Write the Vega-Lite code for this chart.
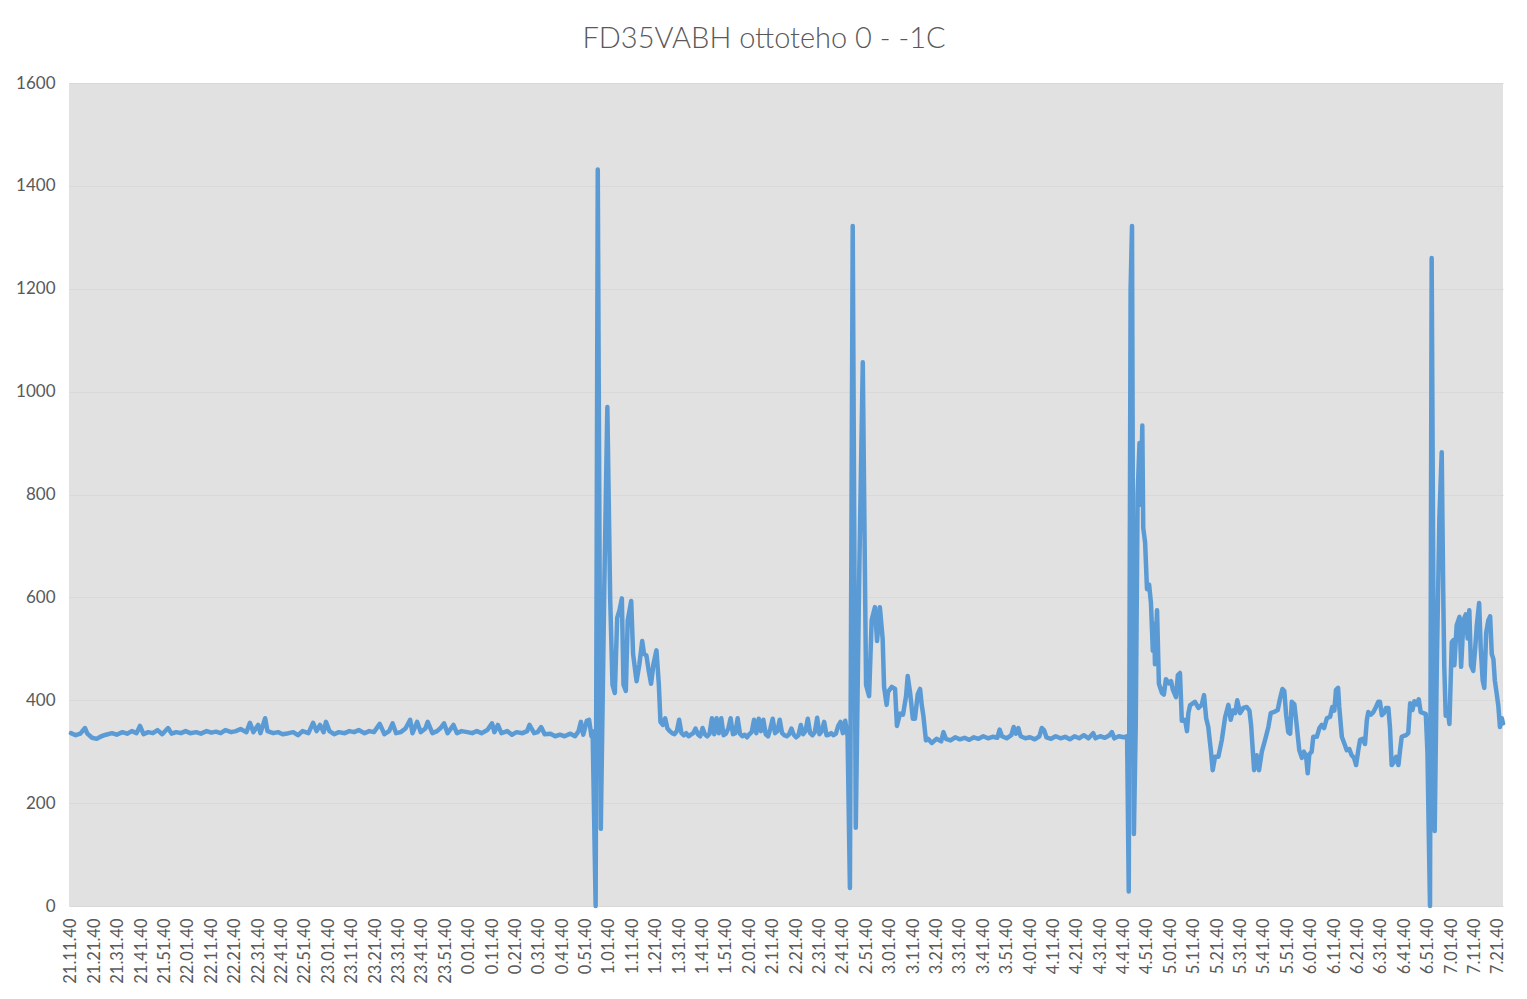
{
  "$schema": "https://vega.github.io/schema/vega-lite/v6.json",
  "width": 1434,
  "height": 823,
  "autosize": {"type": "none"},
  "padding": {"left": 69, "top": 83, "right": 24, "bottom": 93},
  "background": "#FFFFFF",
  "title": {"text": "FD35VABH ottoteho 0 - -1C", "font": "Lato", "fontSize": 29, "fontWeight": 300, "color": "#595959", "anchor": "middle", "dx": -22, "offset": 20},
  "data": {"values": [
    {"t":0,"w":336},{"t":2,"w":332},{"t":4,"w":335},{"t":6,"w":346},{"t":7,"w":335},{"t":9,"w":327},{"t":11,"w":325},{"t":13,"w":330},{"t":15,"w":333},{"t":17.5,"w":336},{"t":19.5,"w":333},{"t":22,"w":338},{"t":24,"w":335},{"t":26,"w":340},{"t":28,"w":336},{"t":29.5,"w":350},{"t":31,"w":334},{"t":33,"w":338},{"t":35,"w":336},{"t":37,"w":342},{"t":39,"w":334},{"t":41.5,"w":346},{"t":43,"w":335},{"t":45,"w":338},{"t":47,"w":336},{"t":49,"w":340},{"t":51,"w":336},{"t":53.5,"w":338},{"t":55.5,"w":335},{"t":58,"w":340},{"t":60,"w":337},{"t":62,"w":339},{"t":64,"w":336},{"t":66,"w":342},{"t":68.5,"w":338},{"t":70.5,"w":340},{"t":72.5,"w":344},{"t":75,"w":338},{"t":76.5,"w":356},{"t":78,"w":338},{"t":80,"w":352},{"t":81,"w":336},{"t":83,"w":365},{"t":84,"w":340},{"t":86.5,"w":336},{"t":88.5,"w":338},{"t":90.5,"w":334},{"t":93,"w":336},{"t":95,"w":338},{"t":97,"w":332},{"t":99,"w":340},{"t":101.5,"w":336},{"t":103.5,"w":356},{"t":105,"w":340},{"t":106.5,"w":352},{"t":108,"w":338},{"t":109,"w":358},{"t":110.5,"w":340},{"t":112.5,"w":334},{"t":114.5,"w":338},{"t":117,"w":336},{"t":119,"w":340},{"t":121,"w":338},{"t":123,"w":342},{"t":125.5,"w":336},{"t":127.5,"w":340},{"t":129.5,"w":338},{"t":132,"w":354},{"t":134,"w":334},{"t":136,"w":340},{"t":137.5,"w":355},{"t":139,"w":336},{"t":141,"w":338},{"t":143,"w":345},{"t":145,"w":362},{"t":146,"w":336},{"t":148,"w":358},{"t":149.5,"w":338},{"t":151.5,"w":345},{"t":152.5,"w":358},{"t":154.5,"w":336},{"t":156.5,"w":340},{"t":158,"w":346},{"t":159.5,"w":355},{"t":161,"w":336},{"t":163.5,"w":352},{"t":165,"w":336},{"t":167,"w":340},{"t":169.5,"w":338},{"t":171.5,"w":336},{"t":173.5,"w":340},{"t":175.5,"w":336},{"t":178,"w":342},{"t":180,"w":355},{"t":181,"w":338},{"t":182.5,"w":352},{"t":184,"w":336},{"t":186.5,"w":340},{"t":188.5,"w":333},{"t":190.5,"w":338},{"t":193,"w":336},{"t":195,"w":340},{"t":196,"w":352},{"t":198,"w":336},{"t":199.5,"w":338},{"t":201,"w":348},{"t":202.5,"w":334},{"t":205,"w":335},{"t":207,"w":330},{"t":209,"w":333},{"t":211,"w":330},{"t":213.5,"w":335},{"t":215.5,"w":330},{"t":217,"w":340},{"t":218,"w":358},{"t":219,"w":333},{"t":220.5,"w":360},{"t":221.5,"w":362},{"t":222.5,"w":330},{"t":223,"w":340},
    {"t":224.3,"w":0},{"t":225.2,"w":1432},{"t":226.5,"w":150},{"t":228,"w":620},{"t":229.3,"w":970},{"t":230.5,"w":600},{"t":231.5,"w":430},{"t":232.5,"w":414},{"t":233.5,"w":560},{"t":234.5,"w":575},{"t":235.5,"w":598},{"t":236.2,"w":430},{"t":237.2,"w":418},{"t":238,"w":555},{"t":239.5,"w":593},{"t":240.3,"w":490},{"t":241.8,"w":437},{"t":243,"w":470},{"t":244.2,"w":515},{"t":245,"w":490},{"t":246,"w":487},{"t":247,"w":457},{"t":248,"w":432},{"t":249,"w":470},{"t":250.3,"w":497},{"t":251.3,"w":432},{"t":252,"w":358},
    {"t":253,"w":352},{"t":254,"w":365},{"t":255,"w":345},{"t":256,"w":340},{"t":257,"w":336},{"t":258,"w":334},{"t":259,"w":340},{"t":260,"w":362},{"t":261,"w":336},{"t":262,"w":332},{"t":263,"w":336},{"t":264,"w":330},{"t":265,"w":333},{"t":266,"w":336},{"t":267,"w":345},{"t":268,"w":334},{"t":269,"w":330},{"t":270,"w":346},{"t":271,"w":334},{"t":272,"w":330},{"t":273,"w":335},{"t":274,"w":365},{"t":275,"w":334},{"t":276,"w":365},{"t":277,"w":336},{"t":278,"w":365},{"t":279,"w":332},{"t":280,"w":335},{"t":281,"w":345},{"t":282,"w":365},{"t":283,"w":334},{"t":284,"w":336},{"t":285,"w":365},{"t":286,"w":335},{"t":287,"w":330},{"t":288,"w":333},{"t":289,"w":328},{"t":290,"w":334},{"t":291,"w":338},{"t":292,"w":362},{"t":293,"w":336},{"t":294,"w":364},{"t":295,"w":340},{"t":296,"w":362},{"t":297,"w":334},{"t":298,"w":330},{"t":299,"w":345},{"t":300,"w":364},{"t":301,"w":336},{"t":302,"w":340},{"t":303,"w":362},{"t":304,"w":336},{"t":305,"w":332},{"t":306,"w":330},{"t":307,"w":334},{"t":308,"w":345},{"t":309,"w":333},{"t":310,"w":328},{"t":311,"w":332},{"t":312,"w":352},{"t":313,"w":334},{"t":314,"w":340},{"t":315,"w":364},{"t":316,"w":336},{"t":317,"w":332},{"t":318,"w":338},{"t":319,"w":366},{"t":320,"w":334},{"t":321,"w":340},{"t":322,"w":358},{"t":323,"w":332},{"t":324,"w":333},{"t":325,"w":336},{"t":326,"w":332},{"t":327,"w":335},{"t":328,"w":350},{"t":329,"w":358},{"t":330,"w":336},{"t":331,"w":360},{"t":332,"w":330},
    {"t":333,"w":35},{"t":334.2,"w":1322},{"t":335.5,"w":152},{"t":337,"w":650},{"t":338.5,"w":1057},{"t":339.9,"w":430},{"t":341.2,"w":408},{"t":342.3,"w":556},{"t":343.7,"w":581},{"t":344.6,"w":515},{"t":345.8,"w":581},{"t":347,"w":519},{"t":347.6,"w":426},{"t":348.7,"w":391},{"t":349.3,"w":416},{"t":350.9,"w":426},{"t":352.3,"w":422},{"t":353.1,"w":350},{"t":354.4,"w":374},{"t":355.7,"w":372},{"t":357,"w":408},{"t":357.7,"w":447},{"t":358.7,"w":416},{"t":359.9,"w":364},{"t":360.8,"w":364},{"t":362,"w":412},{"t":363,"w":422},{"t":363.7,"w":391},{"t":364.4,"w":370},{"t":365.5,"w":322},{"t":366.4,"w":325},{"t":368,"w":317},
    {"t":370,"w":325},{"t":372,"w":320},{"t":373,"w":338},{"t":374,"w":325},{"t":376,"w":322},{"t":378,"w":328},{"t":380,"w":324},{"t":382,"w":327},{"t":384,"w":323},{"t":386,"w":328},{"t":388,"w":325},{"t":390,"w":330},{"t":392,"w":326},{"t":394,"w":329},{"t":396,"w":327},{"t":397,"w":343},{"t":398,"w":330},{"t":400,"w":326},{"t":402,"w":332},{"t":403,"w":348},{"t":404,"w":335},{"t":405,"w":346},{"t":406,"w":330},{"t":408,"w":326},{"t":410,"w":328},{"t":412,"w":324},{"t":414,"w":330},{"t":415,"w":346},{"t":416,"w":342},{"t":417,"w":328},{"t":419,"w":325},{"t":421,"w":330},{"t":423,"w":326},{"t":425,"w":329},{"t":427,"w":324},{"t":429,"w":330},{"t":431,"w":326},{"t":433,"w":332},{"t":435,"w":326},{"t":437,"w":336},{"t":438,"w":326},{"t":440,"w":330},{"t":442,"w":327},{"t":444,"w":332},{"t":445,"w":338},{"t":446,"w":326},{"t":448,"w":330},{"t":450,"w":328},{"t":451.5,"w":330},
    {"t":452.2,"w":28},{"t":453,"w":1200},{"t":453.6,"w":1322},{"t":454.4,"w":140},{"t":455.2,"w":353},{"t":456,"w":800},{"t":456.8,"w":900},{"t":457.3,"w":780},{"t":458,"w":934},{"t":458.4,"w":735},{"t":459.2,"w":707},{"t":460,"w":616},{"t":460.9,"w":625},{"t":461.7,"w":589},{"t":462.5,"w":496},{"t":463.1,"w":548},{"t":463.4,"w":470},{"t":464.3,"w":575},{"t":465.1,"w":432},{"t":466.4,"w":414},{"t":467.2,"w":411},{"t":468.1,"w":441},{"t":468.9,"w":436},{"t":469.4,"w":433},{"t":470.3,"w":437},{"t":471.1,"w":420},{"t":472.4,"w":406},{"t":473.2,"w":449},{"t":474.1,"w":453},{"t":474.9,"w":360},{"t":476.3,"w":362},{"t":477.1,"w":340},{"t":477.7,"w":375},{"t":478.4,"w":390},{"t":480.5,"w":397},{"t":482,"w":385},{"t":483.4,"w":391},{"t":484.4,"w":410},{"t":485.3,"w":365},{"t":486.2,"w":348},{"t":487.3,"w":303},{"t":488.1,"w":264},{"t":489.1,"w":290},{"t":490.5,"w":290},{"t":492,"w":323},{"t":493.4,"w":367},{"t":494.8,"w":391},{"t":495.8,"w":362},{"t":496.7,"w":380},{"t":497.7,"w":375},{"t":498.6,"w":400},{"t":499.8,"w":375},{"t":501.2,"w":385},{"t":502.6,"w":387},{"t":503.8,"w":380},{"t":504.5,"w":352},{"t":505.8,"w":264},{"t":506.9,"w":293},{"t":507.9,"w":264},{"t":509.1,"w":300},{"t":510.5,"w":323},{"t":511.9,"w":348},{"t":512.9,"w":375},{"t":514.7,"w":378},{"t":515.9,"w":381},{"t":516.9,"w":404},{"t":517.9,"w":422},{"t":518.7,"w":418},{"t":519.5,"w":371},{"t":520.4,"w":338},{"t":521.2,"w":335},{"t":521.9,"w":397},{"t":523,"w":392},{"t":524,"w":352},{"t":525.1,"w":303},{"t":526.2,"w":288},{"t":527.1,"w":300},{"t":528,"w":292},{"t":528.7,"w":258},{"t":529.4,"w":295},{"t":530.4,"w":300},{"t":531.1,"w":329},{"t":532.6,"w":329},{"t":533.7,"w":346},{"t":534.7,"w":352},{"t":535.7,"w":346},{"t":536.9,"w":365},{"t":538.3,"w":368},{"t":539.2,"w":387},{"t":540.1,"w":380},{"t":540.8,"w":420},{"t":541.7,"w":424},{"t":542.2,"w":387},{"t":543.3,"w":329},{"t":544.3,"w":317},{"t":545.4,"w":303},{"t":546.5,"w":305},{"t":547.5,"w":293},{"t":548.5,"w":288},{"t":549.4,"w":274},{"t":550.4,"w":305},{"t":551.1,"w":323},{"t":552.2,"w":325},{"t":553.2,"w":315},{"t":554,"w":362},{"t":554.6,"w":377},{"t":555.7,"w":372},{"t":556.8,"w":377},{"t":557.9,"w":387},{"t":558.9,"w":397},{"t":559.6,"w":397},{"t":560.4,"w":371},{"t":561.3,"w":375},{"t":562.2,"w":385},{"t":563.2,"w":385},{"t":563.9,"w":346},{"t":564.6,"w":274},{"t":565.6,"w":280},{"t":566.5,"w":290},{"t":567.5,"w":274},{"t":568.2,"w":303},{"t":568.9,"w":329},{"t":569.9,"w":331},{"t":570.8,"w":332},{"t":571.7,"w":336},{"t":572.5,"w":394},{"t":573.5,"w":381},{"t":574.3,"w":398},{"t":575.3,"w":392},{"t":576.2,"w":402},{"t":577,"w":377},{"t":578.2,"w":375},{"t":579.2,"w":373},{"t":579.9,"w":299},{"t":580.5,"w":132},{"t":581,"w":0},{"t":581.7,"w":1260},{"t":582.4,"w":630},{"t":583,"w":146},{"t":583.9,"w":465},{"t":585,"w":754},{"t":586,"w":882},{"t":586.7,"w":589},{"t":587.1,"w":465},{"t":587.7,"w":370},{"t":588.6,"w":380},{"t":589.3,"w":354},{"t":590.3,"w":513},{"t":591,"w":517},{"t":591.4,"w":468},{"t":592.4,"w":546},{"t":593.6,"w":562},{"t":594.3,"w":465},{"t":595.3,"w":556},{"t":596.3,"w":567},{"t":597.1,"w":520},{"t":597.8,"w":575},{"t":598.5,"w":468},{"t":599.5,"w":457},{"t":600.3,"w":500},{"t":601,"w":546},{"t":602,"w":589},{"t":602.7,"w":500},{"t":603.5,"w":439},{"t":604.2,"w":424},{"t":605,"w":531},{"t":605.9,"w":555},{"t":606.7,"w":563},{"t":607.4,"w":490},{"t":608.1,"w":480},{"t":608.7,"w":439},{"t":609.5,"w":413},{"t":610.2,"w":389},{"t":610.9,"w":348},{"t":611.7,"w":365},{"t":612.2,"w":355}
  ]},
  "mark": {"type": "line", "color": "#5B9BD5", "strokeWidth": 4.5, "strokeJoin": "round", "strokeCap": "round"},
  "encoding": {
    "x": {"field": "t", "type": "quantitative", "title": null,
      "scale": {"domain": [-0.85, 612.2], "nice": false, "zero": false},
      "axis": {"values": [0,10,20,30,40,50,60,70,80,90,100,110,120,130,140,150,160,170,180,190,200,210,220,230,240,250,260,270,280,290,300,310,320,330,340,350,360,370,380,390,400,410,420,430,440,450,460,470,480,490,500,510,520,530,540,550,560,570,580,590,600,610],
        "labelExpr": "(floor((datum.value + 1271) / 60) % 24) + '.' + (((datum.value + 1271) % 60) < 10 ? '0' : '') + ((datum.value + 1271) % 60) + '.40'",
        "labelAngle": 270, "labelPadding": 12, "labelFontSize": 16.5, "grid": false, "ticks": false, "domain": false, "labelOverlap": false, "labelFlush": false, "labelBound": false}},
    "y": {"field": "w", "type": "quantitative", "title": null,
      "scale": {"domain": [0, 1600], "nice": false},
      "axis": {"values": [0,200,400,600,800,1000,1200,1400,1600], "format": "d", "labelPadding": 14, "labelFontSize": 17, "grid": true, "gridColor": "#D9D9D9", "gridWidth": 1, "ticks": false, "domain": false, "labelOverlap": false, "labelFlush": false}}
  },
  "config": {
    "view": {"fill": "#E1E1E1", "stroke": null},
    "axis": {"labelFont": "Lato", "labelColor": "#595959"}
  }
}
